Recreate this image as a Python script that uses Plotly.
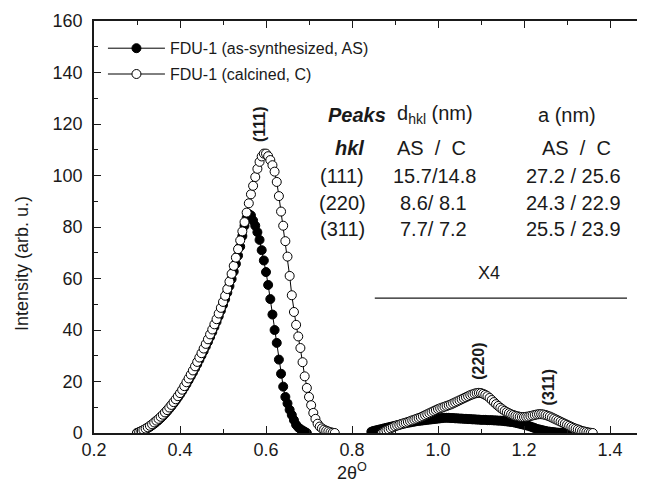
import plotly.graph_objects as go

# ---------------- data ----------------
# FDU-1 as-synthesized (AS), first peak region
as1_x = [0.300, 0.305, 0.310, 0.315, 0.320, 0.325, 0.330, 0.335, 0.340, 0.345,
         0.350, 0.355, 0.360, 0.365, 0.370, 0.375, 0.380, 0.385, 0.390, 0.395,
         0.400, 0.405, 0.410, 0.415, 0.420, 0.425, 0.430, 0.435, 0.440, 0.445,
         0.450, 0.455, 0.460, 0.465, 0.470, 0.475, 0.480, 0.485, 0.490, 0.495,
         0.500, 0.505, 0.510, 0.515, 0.520, 0.525, 0.530, 0.535, 0.540, 0.545,
         0.550, 0.555, 0.560, 0.565, 0.570, 0.575, 0.580, 0.585, 0.590, 0.595,
         0.600, 0.605, 0.610, 0.615, 0.620, 0.625, 0.630, 0.635, 0.640, 0.645,
         0.650, 0.655, 0.660, 0.665, 0.670, 0.675, 0.680, 0.685, 0.690, 0.695]
as1_y = [0.0, 0.3, 0.6, 1.0, 1.4, 1.9, 2.4, 3.0, 3.6, 4.3,
         5.0, 5.8, 6.6, 7.5, 8.4, 9.4, 10.4, 11.5, 12.6, 13.8,
         15.0, 16.3, 17.6, 19.0, 20.5, 22.0, 23.5, 25.1, 26.7, 28.4,
         30.1, 31.8, 33.6, 35.4, 37.3, 39.2, 41.2, 43.2, 45.3, 47.5,
         49.7, 52.0, 54.5, 57.1, 59.8, 62.7, 65.7, 68.9, 72.4, 76.5,
         80.5, 83.5, 85.0, 84.5, 82.5, 80.5, 78.0, 75.0, 71.0, 67.0,
         62.5, 57.5, 52.0, 46.0, 40.0, 35.0, 28.5, 23.0, 18.0, 14.0,
         11.5, 9.0, 7.0, 5.0, 3.2, 2.2, 1.5, 1.0, 0.5, 0.0]

# FDU-1 calcined (C), first peak region
c1_x = [0.300, 0.305, 0.310, 0.315, 0.320, 0.325, 0.330, 0.335, 0.340, 0.345,
        0.350, 0.355, 0.360, 0.365, 0.370, 0.375, 0.380, 0.385, 0.390, 0.395,
        0.400, 0.405, 0.410, 0.415, 0.420, 0.425, 0.430, 0.435, 0.440, 0.445,
        0.450, 0.455, 0.460, 0.465, 0.470, 0.475, 0.480, 0.485, 0.490, 0.495,
        0.500, 0.505, 0.510, 0.515, 0.520, 0.525, 0.530, 0.535, 0.540, 0.545,
        0.550, 0.555, 0.560, 0.565, 0.570, 0.575, 0.580, 0.585, 0.590, 0.595,
        0.600, 0.605, 0.610, 0.615, 0.620, 0.625, 0.630, 0.635, 0.640, 0.645,
        0.650, 0.655, 0.660, 0.665, 0.670, 0.675, 0.680, 0.685, 0.690, 0.695,
        0.700, 0.705, 0.710, 0.715, 0.720, 0.725, 0.730, 0.735, 0.740, 0.745,
        0.750, 0.755, 0.760]
c1_y = [0.0, 0.4, 0.8, 1.2, 1.7, 2.2, 2.8, 3.4, 4.1, 4.8,
        5.5, 6.3, 7.1, 8.0, 8.9, 9.9, 10.9, 12.0, 13.1, 14.3,
        15.5, 16.8, 18.2, 19.7, 21.2, 22.7, 24.3, 25.9, 27.6, 29.3,
        31.0, 32.8, 34.6, 36.4, 38.3, 40.2, 42.2, 44.2, 46.4, 48.6,
        50.9, 53.3, 55.9, 58.8, 61.8, 64.9, 68.1, 71.4, 74.8, 78.3,
        81.9, 85.6, 89.2, 92.7, 96.0, 99.4, 102.6, 105.3, 107.4, 108.5,
        108.5, 107.5, 106.0, 104.0, 101.5, 97.5, 92.0, 86.0, 80.5, 74.5,
        68.5, 61.0, 53.5, 47.0, 42.0, 37.5, 33.0, 27.5, 22.0, 17.5,
        14.0, 10.8, 7.8, 5.5, 3.6, 2.5, 1.8, 1.3, 0.9, 0.6,
        0.3, 0.1, 0.0]

# second region (x4), AS
as2_x = [0.845, 0.850, 0.855, 0.860, 0.865, 0.870, 0.875, 0.880, 0.885, 0.890,
         0.895, 0.900, 0.905, 0.910, 0.915, 0.920, 0.925, 0.930, 0.935, 0.940,
         0.945, 0.950, 0.955, 0.960, 0.965, 0.970, 0.975, 0.980, 0.985, 0.990,
         0.995, 1.000, 1.005, 1.010, 1.015, 1.020, 1.025, 1.030, 1.035, 1.040,
         1.045, 1.050, 1.055, 1.060, 1.065, 1.070, 1.075, 1.080, 1.085, 1.090,
         1.095, 1.100, 1.105, 1.110, 1.115, 1.120, 1.125, 1.130, 1.135, 1.140,
         1.145, 1.150, 1.155, 1.160, 1.165, 1.170, 1.175, 1.180, 1.185, 1.190,
         1.195, 1.200, 1.205, 1.210, 1.215, 1.220, 1.225, 1.230, 1.235, 1.240,
         1.245, 1.250, 1.255, 1.260, 1.265, 1.270, 1.275, 1.280, 1.285, 1.290,
         1.295, 1.300]
as2_y = [0.5, 0.8, 1.0, 1.2, 1.4, 1.6, 1.8, 2.0, 2.2, 2.4,
         2.6, 2.8, 3.0, 3.2, 3.4, 3.6, 3.8, 4.0, 4.1, 4.3,
         4.4, 4.6, 4.7, 4.8, 4.9, 5.0, 5.1, 5.2, 5.3, 5.4,
         5.5, 5.6, 5.7, 5.8, 5.9, 5.9, 5.9, 5.8, 5.8, 5.7,
         5.7, 5.6, 5.6, 5.5, 5.5, 5.4, 5.4, 5.3, 5.3, 5.2,
         5.2, 5.1, 5.1, 5.1, 5.0, 5.0, 5.0, 4.9, 4.9, 4.8,
         4.8, 4.7, 4.6, 4.5, 4.4, 4.3, 4.2, 4.0, 3.8, 3.6,
         3.4, 3.2, 3.0, 2.8, 2.5, 2.2, 1.9, 1.6, 1.4, 1.2,
         1.0, 0.8, 0.6, 0.5, 0.4, 0.3, 0.2, 0.1, 0.1, 0.0,
         0.0, 0.0]

# second region (x4), C
c2_x = [0.870, 0.875, 0.880, 0.885, 0.890, 0.895, 0.900, 0.905, 0.910, 0.915,
        0.920, 0.925, 0.930, 0.935, 0.940, 0.945, 0.950, 0.955, 0.960, 0.965,
        0.970, 0.975, 0.980, 0.985, 0.990, 0.995, 1.000, 1.005, 1.010, 1.015,
        1.020, 1.025, 1.030, 1.035, 1.040, 1.045, 1.050, 1.055, 1.060, 1.065,
        1.070, 1.075, 1.080, 1.085, 1.090, 1.095, 1.100, 1.105, 1.110, 1.115,
        1.120, 1.125, 1.130, 1.135, 1.140, 1.145, 1.150, 1.155, 1.160, 1.165,
        1.170, 1.175, 1.180, 1.185, 1.190, 1.195, 1.200, 1.205, 1.210, 1.215,
        1.220, 1.225, 1.230, 1.235, 1.240, 1.245, 1.250, 1.255, 1.260, 1.265,
        1.270, 1.275, 1.280, 1.285, 1.290, 1.295, 1.300, 1.305, 1.310, 1.315,
        1.320, 1.325, 1.330, 1.335, 1.340, 1.345, 1.350, 1.355, 1.360]
c2_y = [0.0, 0.5, 1.0, 1.4, 1.8, 2.2, 2.6, 2.9, 3.2, 3.5,
        3.8, 4.0, 4.3, 4.6, 4.9, 5.2, 5.5, 5.8, 6.1, 6.5,
        6.9, 7.3, 7.7, 8.1, 8.5, 8.9, 9.3, 9.6, 9.9, 10.2,
        10.5, 10.8, 11.1, 11.5, 11.9, 12.3, 12.7, 13.1, 13.5, 13.9,
        14.3, 14.7, 15.0, 15.3, 15.5, 15.6, 15.5, 15.2, 14.8, 14.3,
        13.6, 12.8, 12.0, 11.2, 10.5, 9.8, 9.2, 8.6, 8.1, 7.7,
        7.3, 7.0, 6.7, 6.5, 6.3, 6.2, 6.2, 6.3, 6.4, 6.6,
        6.8, 7.0, 7.2, 7.3, 7.3, 7.2, 7.0, 6.7, 6.4, 6.0,
        5.6, 5.2, 4.8, 4.4, 4.0, 3.6, 3.2, 2.8, 2.4, 2.0,
        1.7, 1.4, 1.1, 0.8, 0.6, 0.4, 0.2, 0.1, 0.0]

series_names = ["FDU-1 (as-synthesized, AS)", "FDU-1 (calcined, C)"]

x_ticks = [0.2, 0.4, 0.6, 0.8, 1.0, 1.2, 1.4]
x_tick_labels = ["0.2", "0.4", "0.6", "0.8", "1.0", "1.2", "1.4"]
y_ticks = [0, 20, 40, 60, 80, 100, 120, 140, 160]

peak_labels = ["(111)", "(220)", "(311)"]
peak_label_x = [0.584, 1.095, 1.257]
peak_label_y = [120, 28, 17.5]

table_rows = [
    ["<b><i>Peaks</i></b>", "d<sub>hkl</sub> (nm)", "a (nm)"],
    ["<b><i>hkl</i></b>", "AS\u00a0\u00a0/\u00a0\u00a0C", "AS\u00a0\u00a0/\u00a0\u00a0C"],
    ["(111)", "15.7/14.8", "27.2 / 25.6"],
    ["(220)", "8.6/ 8.1", "24.3 / 22.9"],
    ["(311)", "7.7/ 7.2", "25.5 / 23.9"],
]
table_row_y = [123.5, 110.8, 99.8, 89.3, 79.3]
table_col_x = [[0.812, 0.993, 1.300],
               [0.795, 0.986, 1.321],
               [0.777, 0.993, 1.316],
               [0.777, 0.990, 1.316],
               [0.777, 0.990, 1.316]]

x4_label = "X4"
x4_line_x = [0.853, 1.4395]
x4_line_y = 52.4

x_title = "2θ<sup>O</sup>"
y_title = "Intensity (arb. u.)"

FONT = "Liberation Sans, Arial, Helvetica, sans-serif"
INK = "#1a1a1a"

fig = go.Figure()

as_marker = dict(symbol="circle", size=9, color="black", line=dict(color="black", width=1))
c_marker = dict(symbol="circle", size=9, color="white", line=dict(color="black", width=1))

fig.add_trace(go.Scatter(x=as1_x, y=as1_y, mode="lines+markers", name=series_names[0],
                         line=dict(color="black", width=1), marker=as_marker,
                         legendgroup="as"))
fig.add_trace(go.Scatter(x=as2_x, y=as2_y, mode="lines+markers", name=series_names[0],
                         line=dict(color="black", width=1), marker=as_marker,
                         legendgroup="as", showlegend=False))
fig.add_trace(go.Scatter(x=c1_x, y=c1_y, mode="lines+markers", name=series_names[1],
                         line=dict(color="black", width=1), marker=c_marker,
                         legendgroup="c"))
fig.add_trace(go.Scatter(x=c2_x, y=c2_y, mode="lines+markers", name=series_names[1],
                         line=dict(color="black", width=1), marker=c_marker,
                         legendgroup="c", showlegend=False))

annotations = []
for lab, lx, ly in zip(peak_labels, peak_label_x, peak_label_y):
    annotations.append(dict(x=lx, y=ly, xref="x", yref="y", text="<b>" + lab + "</b>",
                            textangle=-90, showarrow=False,
                            font=dict(family=FONT, size=16, color=INK)))
for row, ry, cols in zip(table_rows, table_row_y, table_col_x):
    for cell, cx in zip(row, cols):
        annotations.append(dict(x=cx, y=ry, xref="x", yref="y", text=cell,
                                showarrow=False, xanchor="center", yanchor="middle",
                                font=dict(family=FONT, size=20, color=INK)))
annotations.append(dict(x=1.119, y=62, xref="x", yref="y", text=x4_label, showarrow=False,
                        font=dict(family=FONT, size=18, color=INK)))
# axis titles
annotations.append(dict(x=0.8, y=0, xref="x", yref="paper", text=x_title, showarrow=False,
                        xanchor="center", yanchor="middle", yshift=-38,
                        font=dict(family=FONT, size=18, color=INK)))
annotations.append(dict(x=0, y=0.41, xref="paper", yref="paper", text=y_title, showarrow=False,
                        xanchor="center", yanchor="middle", xshift=-72, textangle=-90,
                        font=dict(family=FONT, size=18, color=INK)))

fig.add_shape(type="line", xref="x", yref="y", x0=x4_line_x[0], x1=x4_line_x[1],
              y0=x4_line_y, y1=x4_line_y, line=dict(color=INK, width=1.2))

fig.update_layout(
    width=645, height=494,
    margin=dict(l=86, r=0, t=13, b=69),
    paper_bgcolor="white", plot_bgcolor="white",
    font=dict(family=FONT, size=18, color=INK),
    showlegend=True,
    legend=dict(x=0.016, y=0.975, xanchor="left", yanchor="top",
                bgcolor="rgba(0,0,0,0)", font=dict(family=FONT, size=16, color=INK),
                tracegroupgap=2, itemwidth=57),
    annotations=annotations,
)

fig.update_xaxes(range=[0.2, 1.5], tickvals=x_ticks, ticktext=x_tick_labels,
                 ticks="inside", ticklen=7, tickwidth=1.2, tickcolor=INK,
                 showline=True, linecolor=INK, linewidth=1.5, mirror="ticks",
                 showgrid=False, zeroline=False,
                 minor=dict(dtick=0.1, ticks="inside", ticklen=4, tickcolor=INK, tickwidth=1.2, showgrid=False),
                 tickfont=dict(family=FONT, size=18, color=INK))
fig.update_yaxes(range=[0, 160], tickvals=y_ticks,
                 ticks="inside", ticklen=7, tickwidth=1.2, tickcolor=INK,
                 showline=True, linecolor=INK, linewidth=1.5, mirror=False,
                 showgrid=False, zeroline=False, ticklabelstandoff=6,
                 minor=dict(dtick=10, ticks="inside", ticklen=4, tickcolor=INK, tickwidth=1.2, showgrid=False),
                 tickfont=dict(family=FONT, size=18, color=INK))

fig.write_html("out.html")
